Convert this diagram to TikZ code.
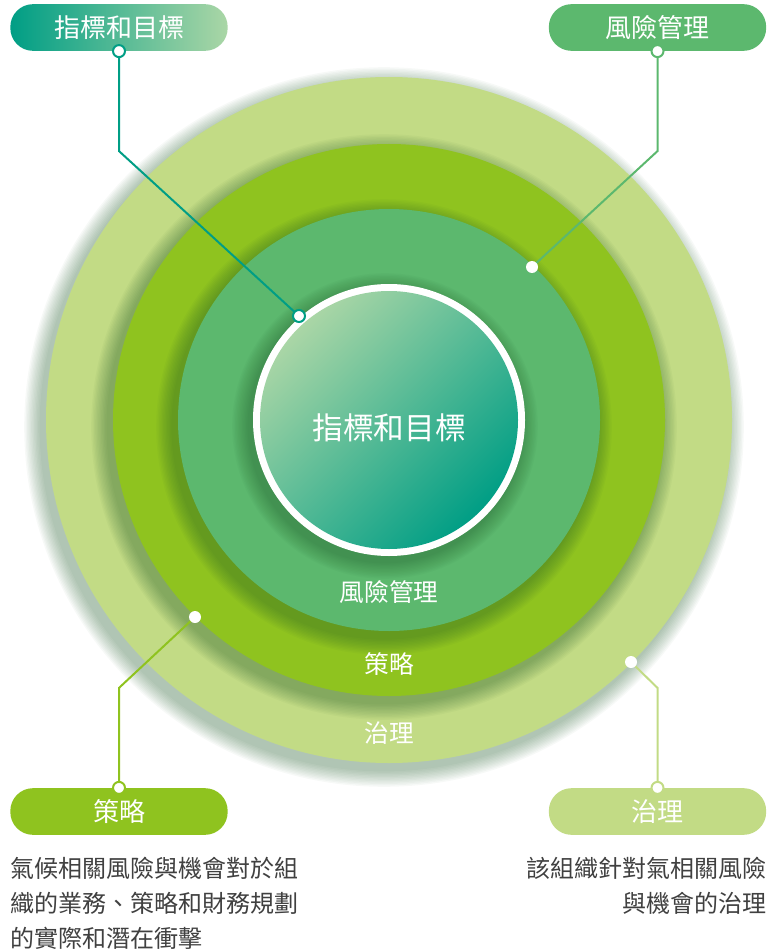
\documentclass[tikz,border=0pt]{standalone}
\usepackage{fontspec}
\setmainfont{Noto Sans CJK TC}
\usepackage{tikz}
\usetikzlibrary{positioning}
\definecolor{tcpale}{RGB}{194,219,133}
\definecolor{tclime}{RGB}{143,195,31}
\definecolor{tcgreen}{RGB}{92,184,110}
\definecolor{tcteal}{RGB}{0,158,133}
\definecolor{tcjade}{RGB}{0,174,142}
\definecolor{tcmint}{RGB}{170,214,166}
\definecolor{tcshadow}{RGB}{30,90,40}
\definecolor{tcgray}{RGB}{64,64,64}

\tikzset{
  pill/.style={rounded corners=17pt, minimum width=163pt, minimum height=35pt, inner sep=0pt, text=white, font=\fontsize{19.5}{22}\selectfont},
  ringlabel/.style={text=white, font=\fontsize{18.5}{22}\selectfont},
  lead/.style={line width=1.5pt},
  desc/.style={text=tcgray, inner sep=0pt, font=\fontsize{18}{26.25}\selectfont}
}

\begin{document}
\begin{tikzpicture}[x=0.75pt,y=-0.75pt]
\useasboundingbox (0,0) rectangle (769,952);
\coordinate (c) at (389,420);
% rings with soft shadow
\foreach \r/\col in {343/tcpale,276/tclime,211/tcgreen}{
  \foreach \k in {1,...,12} \fill[tcshadow,opacity=0.035] (384,427) circle ({\r+1.4*\k});
  \fill[\col] (c) circle (\r);
}
\foreach \k in {1,...,12} \fill[tcshadow,opacity=0.035] (385,426) circle ({136+1.4*\k});
\fill[white] (c) circle (136);
\shade[top color=tcmint, middle color=tcjade, bottom color=tcteal, shading angle=45] (c) circle (129);
\node[ringlabel, font=\fontsize{23}{26}\selectfont] (core) at (389,428) {指標和目標};
\node[ringlabel] (lrisk) at (389,592) {風險管理};
\node[ringlabel] (lstrat) at (389,664) {策略};
\node[ringlabel] (lgov) at (389,733) {治理};
% pills
\node[pill, left color=tcteal, middle color=tcjade, right color=tcmint] (pmetric) at (119,27.5) {指標和目標};
\node[pill, fill=tcgreen] (prisk) at (657.5,27.5) {風險管理};
\node[pill, fill=tclime] (pstrat) at (119,811.5) {策略};
\node[pill, fill=tcpale] (pgov) at (657.5,811.5) {治理};
% leader lines
\coordinate (dmetric) at (299,316);
\coordinate (drisk) at (532,267);
\coordinate (dstrat) at (195,617);
\coordinate (dgov) at (631,662);
\draw[lead,tcteal] (pmetric.south) -- ++(0,100) -- (dmetric);
\draw[lead,tcgreen] (prisk.south) -- ++(0,100) -- (drisk);
\draw[lead,tclime] (pstrat.north) -- ++(0,-100) -- (dstrat);
\draw[lead,tcpale] (pgov.north) -- ++(0,-100) -- (dgov);
\filldraw[white, draw=tcteal, line width=1.5pt] (pmetric.south) circle (6) (dmetric) circle (6);
\filldraw[white, draw=tcgreen, line width=1.5pt] (prisk.south) circle (6);
\filldraw[white, draw=tclime, line width=1.5pt] (pstrat.north) circle (6);
\filldraw[white, draw=tcpale, line width=1.5pt] (pgov.north) circle (6);
\fill[white] (drisk) circle (6) (dstrat) circle (6) (dgov) circle (6);
% descriptions
\node[desc, align=left, anchor=north west] (tstrat) at (10,857) {氣候相關風險與機會對於組\\織的業務、策略和財務規劃\\的實際和潛在衝擊};
\node[desc, align=right, anchor=north east] (tgov) at (767,857) {該組織針對氣相關風險\\與機會的治理};
\end{tikzpicture}
\end{document}
